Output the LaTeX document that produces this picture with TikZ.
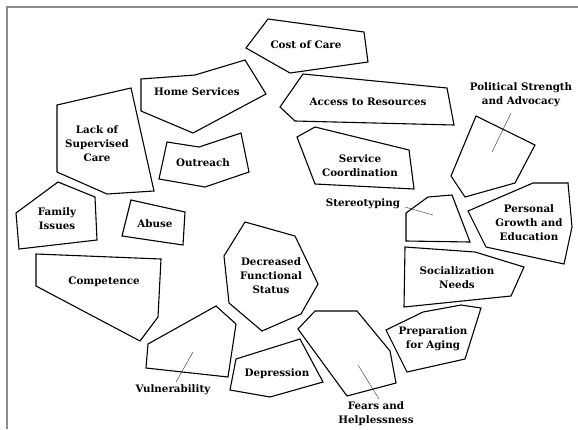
\documentclass[tikz,border=0pt]{standalone}
\usepackage{fontspec}
\setmainfont{DejaVu Serif}
\begin{document}
\begin{tikzpicture}[x=1pt,y=-1pt,
  blob/.style={draw=black,line width=1.1pt,line join=miter},
  lbl/.style={font=\fontsize{10.3}{14}\selectfont\bfseries,align=center,inner sep=0pt},
  leader/.style={draw=black!75,line width=0.45pt},
  frameline/.style={draw=black!45,line width=1.2pt}]
\useasboundingbox (0,0) rectangle (578,429);
\draw[frameline] (7,429) -- (7,7) -- (578,7);
% polygons
\draw[blob] (57,105) -- (131,88) -- (154,191) -- (107,194) -- (57,172) -- cycle;
\draw[blob] (141,79) -- (195,75) -- (245,60) -- (266,94) -- (193,133) -- (141,111) -- cycle;
\draw[blob] (167,142) -- (199,147) -- (241,133) -- (249,172) -- (205,187) -- (159,179) -- cycle;
\draw[blob] (268,19) -- (364,32) -- (368,62) -- (290,73) -- (246,48) -- cycle;
\draw[blob] (303,74) -- (447,88) -- (454,125) -- (295,121) -- (280,107) -- cycle;
\draw[blob] (315,127) -- (409,150) -- (414,189) -- (315,184) -- (297,137) -- cycle;
\draw[blob] (476,116) -- (535,145) -- (515,183) -- (465,197) -- (451,176) -- cycle;
\draw[blob] (406,213) -- (428,197) -- (452,195) -- (470,242) -- (406,241) -- cycle;
\draw[blob] (468,211) -- (533,183) -- (568,183) -- (572,227) -- (564,264) -- (486,247) -- cycle;
\draw[blob] (405,247) -- (475,252) -- (524,267) -- (511,296) -- (404,307) -- cycle;
\draw[blob] (386,330) -- (423,312) -- (461,305) -- (481,308) -- (465,359) -- (407,372) -- cycle;
\draw[blob] (315,311) -- (357,311) -- (390,351) -- (396,383) -- (347,396) -- (298,329) -- cycle;
\draw[blob] (245,222) -- (295,236) -- (318,284) -- (301,314) -- (262,331) -- (229,303) -- (224,256) -- cycle;
\draw[blob] (236,359) -- (300,339) -- (323,382) -- (270,397) -- (230,390) -- cycle;
\draw[blob] (148,344) -- (216,306) -- (236,324) -- (228,377) -- (146,368) -- cycle;
\draw[blob] (36,254) -- (161,259) -- (158,317) -- (140,341) -- (36,286) -- cycle;
\draw[blob] (16,213) -- (58,182) -- (95,197) -- (97,240) -- (19,249) -- cycle;
\draw[blob] (131,200) -- (185,212) -- (183,245) -- (122,236) -- cycle;
% labels
\node[lbl] (lack) at (97,144) {Lack of\\Supervised\\Care};
\node[lbl] (home) at (197,92) {Home Services};
\node[lbl] (outreach) at (203,163) {Outreach};
\node[lbl] (cost) at (306,45) {Cost of Care};
\node[lbl] (access) at (368,102) {Access to Resources};
\node[lbl] (service) at (360,166) {Service\\Coordination};
\node[lbl] (political) at (521,95) {Political Strength\\and Advocacy};
\node[lbl] (stereo) at (363,204) {Stereotyping};
\node[lbl] (personal) at (529,223) {Personal\\Growth and\\Education};
\node[lbl] (social) at (457,278) {Socialization\\Needs};
\node[lbl] (prep) at (433,339) {Preparation\\for Aging};
\node[lbl] (fears) at (376,414) {Fears and\\Helplessness};
\node[lbl] (decr) at (271,276) {Decreased\\Functional\\Status};
\node[lbl] (depr) at (277,374) {Depression};
\node[lbl] (vuln) at (173,390) {Vulnerability};
\node[lbl] (comp) at (104,282) {Competence};
\node[lbl] (family) at (57,219) {Family\\Issues};
\node[lbl] (abuse) at (155,224) {Abuse};
% leader lines
\coordinate (polA) at (511,113);
\coordinate (polB) at (492,152);
\coordinate (steA) at (405,207);
\coordinate (steB) at (433,215);
\coordinate (feaA) at (358,365);
\coordinate (feaB) at (379,399);
\coordinate (vulA) at (193,352);
\coordinate (vulB) at (176,382);
\draw[leader] (polA) -- (polB);
\draw[leader] (steA) -- (steB);
\draw[leader] (feaA) -- (feaB);
\draw[leader] (vulA) -- (vulB);
\end{tikzpicture}
\end{document}
